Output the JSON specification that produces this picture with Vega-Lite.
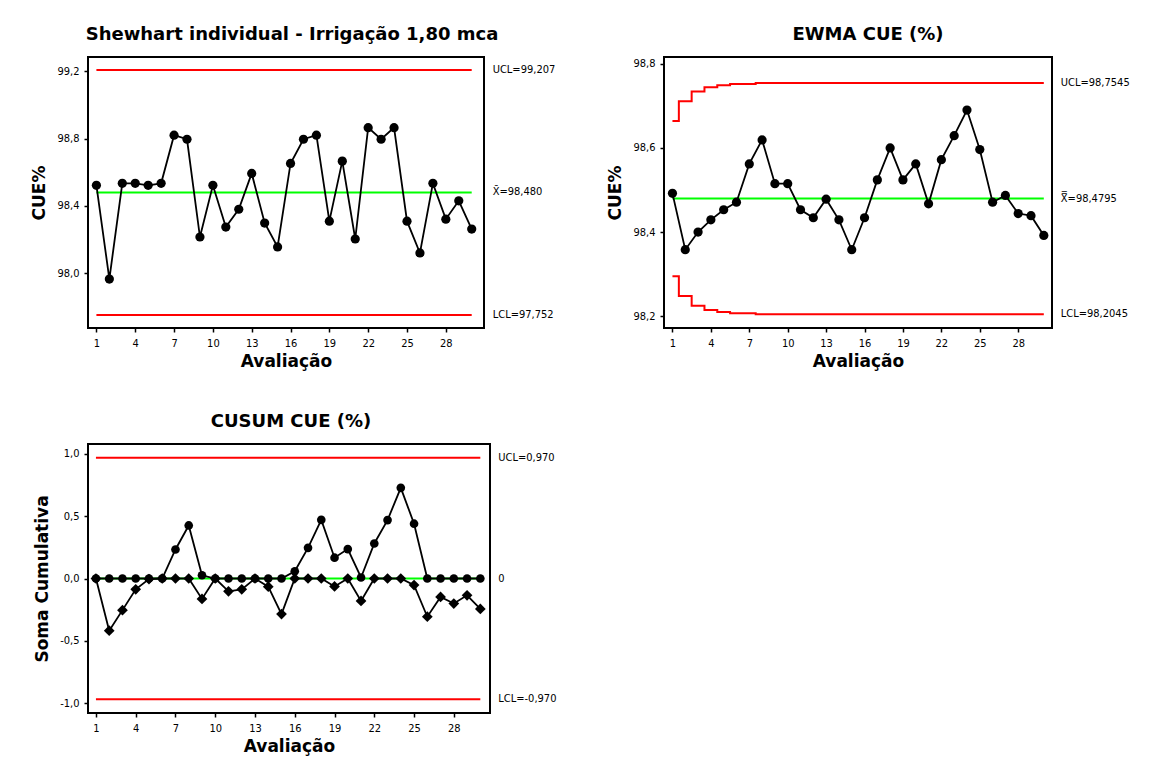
{
  "$schema": "https://vega.github.io/schema/vega-lite/v6.json",
  "background": "white",
  "padding": {"left": 29, "top": 25, "right": 5, "bottom": 5},
  "config": {
    "font": "DejaVu Sans Condensed, Liberation Sans",
    "view": {"stroke": "black", "strokeWidth": 2},
    "axis": {
      "grid": false, "domain": false, "tickColor": "black", "tickWidth": 1.5, "tickSize": 4,
      "labelFontSize": 11, "labelColor": "black", "labelPadding": 5,
      "titleFont": "DejaVu Sans", "titleFontSize": 17, "titleFontWeight": "bold", "titleColor": "black"
    },
    "axisY": {"titlePadding": 8},
    "axisX": {"titlePadding": 5},
    "title": {"font": "DejaVu Sans", "fontSize": 18, "fontWeight": "bold", "color": "black", "offset": 13, "anchor": "middle"},
    "locale": {"number": {"decimal": ",", "thousands": ".", "grouping": [3], "currency": ["", ""], "minus": "-"}}
  },
  "datasets": {
    "shewhart": [
      {"Avaliacao": 1, "valor": 98.522}, {"Avaliacao": 2, "valor": 97.965}, {"Avaliacao": 3, "valor": 98.534},
      {"Avaliacao": 4, "valor": 98.534}, {"Avaliacao": 5, "valor": 98.522}, {"Avaliacao": 6, "valor": 98.534},
      {"Avaliacao": 7, "valor": 98.820}, {"Avaliacao": 8, "valor": 98.796}, {"Avaliacao": 9, "valor": 98.215},
      {"Avaliacao": 10, "valor": 98.522}, {"Avaliacao": 11, "valor": 98.274}, {"Avaliacao": 12, "valor": 98.380},
      {"Avaliacao": 13, "valor": 98.593}, {"Avaliacao": 14, "valor": 98.298}, {"Avaliacao": 15, "valor": 98.156},
      {"Avaliacao": 16, "valor": 98.652}, {"Avaliacao": 17, "valor": 98.796}, {"Avaliacao": 18, "valor": 98.820},
      {"Avaliacao": 19, "valor": 98.309}, {"Avaliacao": 20, "valor": 98.666}, {"Avaliacao": 21, "valor": 98.203},
      {"Avaliacao": 22, "valor": 98.865}, {"Avaliacao": 23, "valor": 98.796}, {"Avaliacao": 24, "valor": 98.865},
      {"Avaliacao": 25, "valor": 98.309}, {"Avaliacao": 26, "valor": 98.120}, {"Avaliacao": 27, "valor": 98.534},
      {"Avaliacao": 28, "valor": 98.321}, {"Avaliacao": 29, "valor": 98.430}, {"Avaliacao": 30, "valor": 98.262}
    ],
    "lim1": [
      {"tipo": "UCL", "Avaliacao": 1, "fim": 30, "valor": 99.207, "rotulo": "UCL=99,207"},
      {"tipo": "C", "Avaliacao": 1, "fim": 30, "valor": 98.480, "rotulo": "X̄=98,480"},
      {"tipo": "LCL", "Avaliacao": 1, "fim": 30, "valor": 97.752, "rotulo": "LCL=97,752"}
    ],
    "ewma": [
      {"Avaliacao": 1, "valor": 98.492, "UCL": 98.664, "LCL": 98.295},
      {"Avaliacao": 2, "valor": 98.358, "UCL": 98.711, "LCL": 98.248},
      {"Avaliacao": 3, "valor": 98.400, "UCL": 98.734, "LCL": 98.225},
      {"Avaliacao": 4, "valor": 98.429, "UCL": 98.744, "LCL": 98.215},
      {"Avaliacao": 5, "valor": 98.453, "UCL": 98.749, "LCL": 98.210},
      {"Avaliacao": 6, "valor": 98.471, "UCL": 98.752, "LCL": 98.207},
      {"Avaliacao": 7, "valor": 98.562, "UCL": 98.752, "LCL": 98.207},
      {"Avaliacao": 8, "valor": 98.619, "UCL": 98.7545, "LCL": 98.2045},
      {"Avaliacao": 9, "valor": 98.515, "UCL": 98.7545, "LCL": 98.2045},
      {"Avaliacao": 10, "valor": 98.515, "UCL": 98.7545, "LCL": 98.2045},
      {"Avaliacao": 11, "valor": 98.453, "UCL": 98.7545, "LCL": 98.2045},
      {"Avaliacao": 12, "valor": 98.434, "UCL": 98.7545, "LCL": 98.2045},
      {"Avaliacao": 13, "valor": 98.478, "UCL": 98.7545, "LCL": 98.2045},
      {"Avaliacao": 14, "valor": 98.429, "UCL": 98.7545, "LCL": 98.2045},
      {"Avaliacao": 15, "valor": 98.358, "UCL": 98.7545, "LCL": 98.2045},
      {"Avaliacao": 16, "valor": 98.434, "UCL": 98.7545, "LCL": 98.2045},
      {"Avaliacao": 17, "valor": 98.524, "UCL": 98.7545, "LCL": 98.2045},
      {"Avaliacao": 18, "valor": 98.600, "UCL": 98.7545, "LCL": 98.2045},
      {"Avaliacao": 19, "valor": 98.524, "UCL": 98.7545, "LCL": 98.2045},
      {"Avaliacao": 20, "valor": 98.562, "UCL": 98.7545, "LCL": 98.2045},
      {"Avaliacao": 21, "valor": 98.467, "UCL": 98.7545, "LCL": 98.2045},
      {"Avaliacao": 22, "valor": 98.572, "UCL": 98.7545, "LCL": 98.2045},
      {"Avaliacao": 23, "valor": 98.629, "UCL": 98.7545, "LCL": 98.2045},
      {"Avaliacao": 24, "valor": 98.690, "UCL": 98.7545, "LCL": 98.2045},
      {"Avaliacao": 25, "valor": 98.596, "UCL": 98.7545, "LCL": 98.2045},
      {"Avaliacao": 26, "valor": 98.471, "UCL": 98.7545, "LCL": 98.2045},
      {"Avaliacao": 27, "valor": 98.487, "UCL": 98.7545, "LCL": 98.2045},
      {"Avaliacao": 28, "valor": 98.444, "UCL": 98.7545, "LCL": 98.2045},
      {"Avaliacao": 29, "valor": 98.439, "UCL": 98.7545, "LCL": 98.2045},
      {"Avaliacao": 30, "valor": 98.392, "UCL": 98.7545, "LCL": 98.2045}
    ],
    "lim2": [
      {"tipo": "UCL", "Avaliacao": 1, "fim": 30, "valor": 98.7545, "rotulo": "UCL=98,7545"},
      {"tipo": "C", "Avaliacao": 1, "fim": 30, "valor": 98.4795, "rotulo": "X̿=98,4795"},
      {"tipo": "LCL", "Avaliacao": 1, "fim": 30, "valor": 98.2045, "rotulo": "LCL=98,2045"}
    ],
    "cusum": [
      {"Avaliacao": 1, "Superior": 0, "Inferior": 0},
      {"Avaliacao": 2, "Superior": 0, "Inferior": -0.419},
      {"Avaliacao": 3, "Superior": 0, "Inferior": -0.254},
      {"Avaliacao": 4, "Superior": 0, "Inferior": -0.087},
      {"Avaliacao": 5, "Superior": 0, "Inferior": -0.005},
      {"Avaliacao": 6, "Superior": 0, "Inferior": 0},
      {"Avaliacao": 7, "Superior": 0.233, "Inferior": 0},
      {"Avaliacao": 8, "Superior": 0.426, "Inferior": 0},
      {"Avaliacao": 9, "Superior": 0.026, "Inferior": -0.164},
      {"Avaliacao": 10, "Superior": 0, "Inferior": 0},
      {"Avaliacao": 11, "Superior": 0, "Inferior": -0.103},
      {"Avaliacao": 12, "Superior": 0, "Inferior": -0.087},
      {"Avaliacao": 13, "Superior": 0, "Inferior": 0},
      {"Avaliacao": 14, "Superior": 0, "Inferior": -0.066},
      {"Avaliacao": 15, "Superior": 0, "Inferior": -0.286},
      {"Avaliacao": 16, "Superior": 0.058, "Inferior": 0},
      {"Avaliacao": 17, "Superior": 0.246, "Inferior": 0},
      {"Avaliacao": 18, "Superior": 0.471, "Inferior": 0},
      {"Avaliacao": 19, "Superior": 0.167, "Inferior": -0.064},
      {"Avaliacao": 20, "Superior": 0.236, "Inferior": 0},
      {"Avaliacao": 21, "Superior": 0.008, "Inferior": -0.180},
      {"Avaliacao": 22, "Superior": 0.281, "Inferior": 0},
      {"Avaliacao": 23, "Superior": 0.469, "Inferior": 0},
      {"Avaliacao": 24, "Superior": 0.728, "Inferior": 0},
      {"Avaliacao": 25, "Superior": 0.440, "Inferior": -0.053},
      {"Avaliacao": 26, "Superior": 0, "Inferior": -0.307},
      {"Avaliacao": 27, "Superior": 0, "Inferior": -0.148},
      {"Avaliacao": 28, "Superior": 0, "Inferior": -0.201},
      {"Avaliacao": 29, "Superior": 0, "Inferior": -0.135},
      {"Avaliacao": 30, "Superior": 0, "Inferior": -0.244}
    ],
    "lim3": [
      {"tipo": "UCL", "Avaliacao": 1, "fim": 30, "valor": 0.970, "rotulo": "UCL=0,970"},
      {"tipo": "C", "Avaliacao": 1, "fim": 30, "valor": 0, "rotulo": "0"},
      {"tipo": "LCL", "Avaliacao": 1, "fim": 30, "valor": -0.970, "rotulo": "LCL=-0,970"}
    ]
  },
  "columns": 2,
  "bounds": "flush",
  "spacing": {"column": 174, "row": 116},
  "concat": [
    {
      "width": 396, "height": 271,
      "title": {"text": "Shewhart individual - Irrigação 1,80 mca", "dx": 6},
      "encoding": {
        "x": {"field": "Avaliacao", "type": "quantitative", "scale": {"domain": [0.35, 30.95], "nice": false, "zero": false},
              "axis": {"values": [1, 4, 7, 10, 13, 16, 19, 22, 25, 28], "format": "d", "title": "Avaliação"}},
        "y": {"field": "valor", "type": "quantitative", "scale": {"domain": [97.674, 99.285], "nice": false, "zero": false},
              "axis": {"values": [98.0, 98.4, 98.8, 99.2], "format": ".1f", "title": "CUE%"}}
      },
      "layer": [
        {"data": {"name": "lim1"}, "mark": {"type": "rule", "strokeWidth": 2},
         "encoding": {"x2": {"field": "fim"},
                      "color": {"field": "tipo", "type": "nominal", "scale": {"domain": ["UCL", "C", "LCL"], "range": ["#ff0000", "#00ff00", "#ff0000"]}, "legend": null}}},
        {"data": {"name": "shewhart"}, "mark": {"type": "line", "color": "black", "strokeWidth": 1.8}},
        {"data": {"name": "shewhart"}, "mark": {"type": "circle", "color": "black", "size": 85, "opacity": 1}},
        {"data": {"name": "lim1"}, "mark": {"type": "text", "align": "left", "baseline": "middle", "dx": 21, "fontSize": 11, "color": "black"},
         "encoding": {"x": {"field": "fim", "type": "quantitative",
                            "axis": {"values": [1, 4, 7, 10, 13, 16, 19, 22, 25, 28], "format": "d", "title": "Avaliação"}},
                      "text": {"field": "rotulo"}}}
      ]
    },
    {
      "width": 388, "height": 271,
      "title": {"text": "EWMA CUE (%)", "dx": 10},
      "encoding": {
        "x": {"field": "Avaliacao", "type": "quantitative", "scale": {"domain": [0.34, 30.64], "nice": false, "zero": false},
              "axis": {"values": [1, 4, 7, 10, 13, 16, 19, 22, 25, 28], "format": "d", "title": "Avaliação"}},
        "y": {"field": "valor", "type": "quantitative", "scale": {"domain": [98.172, 98.816], "nice": false, "zero": false},
              "axis": {"values": [98.2, 98.4, 98.6, 98.8], "format": ".1f", "title": "CUE%"}}
      },
      "layer": [
        {"data": {"name": "lim2"}, "transform": [{"filter": "datum.tipo == 'C'"}], "mark": {"type": "rule", "strokeWidth": 2},
         "encoding": {"x2": {"field": "fim"},
                      "color": {"field": "tipo", "type": "nominal", "scale": {"domain": ["UCL", "C", "LCL"], "range": ["#ff0000", "#00ff00", "#ff0000"]}, "legend": null}}},
        {"data": {"name": "ewma"}, "mark": {"type": "line", "color": "#ff0000", "strokeWidth": 2, "interpolate": "step"},
         "encoding": {"y": {"field": "UCL", "type": "quantitative", "axis": {"values": [98.2, 98.4, 98.6, 98.8], "format": ".1f", "title": "CUE%"}}}},
        {"data": {"name": "ewma"}, "mark": {"type": "line", "color": "#ff0000", "strokeWidth": 2, "interpolate": "step"},
         "encoding": {"y": {"field": "LCL", "type": "quantitative", "axis": {"values": [98.2, 98.4, 98.6, 98.8], "format": ".1f", "title": "CUE%"}}}},
        {"data": {"name": "ewma"}, "mark": {"type": "line", "color": "black", "strokeWidth": 1.8}},
        {"data": {"name": "ewma"}, "mark": {"type": "circle", "color": "black", "size": 85, "opacity": 1}},
        {"data": {"name": "lim2"}, "mark": {"type": "text", "align": "left", "baseline": "middle", "dx": 17, "fontSize": 11, "color": "black"},
         "encoding": {"x": {"field": "fim", "type": "quantitative",
                            "axis": {"values": [1, 4, 7, 10, 13, 16, 19, 22, 25, 28], "format": "d", "title": "Avaliação"}},
                      "text": {"field": "rotulo"}}}
      ]
    },
    {
      "width": 402, "height": 269,
      "title": {"text": "CUSUM CUE (%)", "dx": 2},
      "encoding": {
        "x": {"field": "Avaliacao", "type": "quantitative", "scale": {"domain": [0.4, 30.73], "nice": false, "zero": false},
              "axis": {"values": [1, 4, 7, 10, 13, 16, 19, 22, 25, 28], "format": "d", "title": "Avaliação"}},
        "y": {"field": "valor", "type": "quantitative", "scale": {"domain": [-1.08, 1.08], "nice": false, "zero": false},
              "axis": {"values": [-1.0, -0.5, 0.0, 0.5, 1.0], "format": ".1f", "title": "Soma Cumulativa"}}
      },
      "layer": [
        {"data": {"name": "lim3"}, "mark": {"type": "rule", "strokeWidth": 2},
         "encoding": {"x2": {"field": "fim"},
                      "color": {"field": "tipo", "type": "nominal", "scale": {"domain": ["UCL", "C", "LCL"], "range": ["#ff0000", "#00ff00", "#ff0000"]}, "legend": null}}},
        {"data": {"name": "cusum"}, "mark": {"type": "line", "color": "black", "strokeWidth": 1.8},
         "encoding": {"y": {"field": "Superior", "type": "quantitative", "axis": {"values": [-1.0, -0.5, 0.0, 0.5, 1.0], "format": ".1f", "title": "Soma Cumulativa"}}}},
        {"data": {"name": "cusum"}, "mark": {"type": "line", "color": "black", "strokeWidth": 1.8},
         "encoding": {"y": {"field": "Inferior", "type": "quantitative", "axis": {"values": [-1.0, -0.5, 0.0, 0.5, 1.0], "format": ".1f", "title": "Soma Cumulativa"}}}},
        {"data": {"name": "cusum"}, "mark": {"type": "circle", "color": "black", "size": 75, "opacity": 1},
         "encoding": {"y": {"field": "Superior", "type": "quantitative", "axis": {"values": [-1.0, -0.5, 0.0, 0.5, 1.0], "format": ".1f", "title": "Soma Cumulativa"}}}},
        {"data": {"name": "cusum"}, "mark": {"type": "point", "shape": "diamond", "filled": true, "color": "black", "size": 115, "opacity": 1},
         "encoding": {"y": {"field": "Inferior", "type": "quantitative", "axis": {"values": [-1.0, -0.5, 0.0, 0.5, 1.0], "format": ".1f", "title": "Soma Cumulativa"}}}},
        {"data": {"name": "lim3"}, "mark": {"type": "text", "align": "left", "baseline": "middle", "dx": 18, "fontSize": 11, "color": "black"},
         "encoding": {"x": {"field": "fim", "type": "quantitative",
                            "axis": {"values": [1, 4, 7, 10, 13, 16, 19, 22, 25, 28], "format": "d", "title": "Avaliação"}},
                      "text": {"field": "rotulo"}}}
      ]
    }
  ]
}
